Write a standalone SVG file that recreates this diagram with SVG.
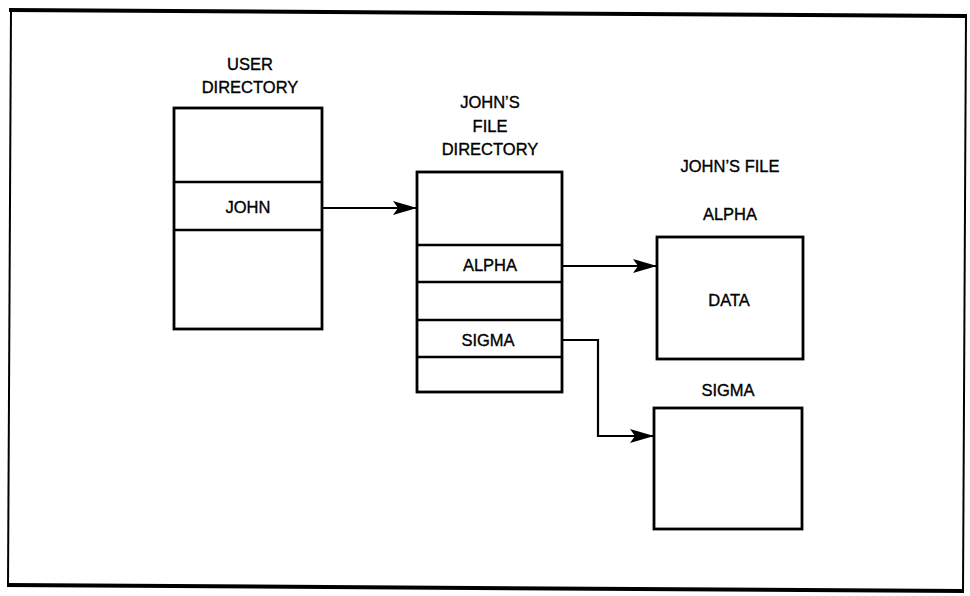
<svg xmlns="http://www.w3.org/2000/svg" width="970" height="596" viewBox="0 0 970 596">
<style>
.box{fill:none;stroke:#000;stroke-width:2.8}
.div{stroke:#000;stroke-width:2.5}
.t{font-family:"Liberation Sans",Arial,sans-serif;font-size:16.5px;fill:#000;stroke:#000;stroke-width:0.35;text-anchor:middle}
.c{fill:none;stroke:#000;stroke-width:2.2}
</style>
<defs>
<marker id="ah" markerWidth="24" markerHeight="14" refX="24" refY="7" orient="auto" markerUnits="userSpaceOnUse">
<path d="M0,0 L24,7 L0,14 L5,7 Z" fill="#000"/>
</marker>
</defs>
<rect width="970" height="596" fill="#fff"/>
<g id="frame">
<line x1="9" y1="10" x2="967" y2="16" stroke="#000" stroke-width="4"/>
<line x1="11" y1="9" x2="8" y2="587" stroke="#000" stroke-width="2"/>
<line x1="966" y1="15" x2="963" y2="592" stroke="#000" stroke-width="2"/>
<line x1="7" y1="585" x2="964" y2="591" stroke="#000" stroke-width="4"/>
</g>
<g id="user-directory">
<text class="t" x="250" y="70">USER</text>
<text class="t" x="250" y="93">DIRECTORY</text>
<rect class="box" x="174" y="108" width="148" height="221"/>
<line class="div" x1="174" y1="182" x2="322" y2="182"/>
<line class="div" x1="174" y1="230" x2="322" y2="230"/>
<text class="t" x="248" y="213">JOHN</text>
</g>
<g id="johns-file-directory">
<text class="t" x="490" y="108">JOHN’S</text>
<text class="t" x="490" y="132">FILE</text>
<text class="t" x="490" y="155">DIRECTORY</text>
<rect class="box" x="417" y="172" width="145" height="220"/>
<line class="div" x1="417" y1="245" x2="562" y2="245"/>
<line class="div" x1="417" y1="282" x2="562" y2="282"/>
<line class="div" x1="417" y1="320" x2="562" y2="320"/>
<line class="div" x1="417" y1="357" x2="562" y2="357"/>
<text class="t" x="490" y="271">ALPHA</text>
<text class="t" x="488" y="346">SIGMA</text>
</g>
<g id="johns-file-label">
<text class="t" x="730" y="172">JOHN’S FILE</text>
</g>
<g id="alpha-file">
<text class="t" x="730" y="220">ALPHA</text>
<rect class="box" x="657" y="237" width="146" height="122"/>
<text class="t" x="729" y="306">DATA</text>
</g>
<g id="sigma-file">
<text class="t" x="728" y="396">SIGMA</text>
<rect class="box" x="654" y="408" width="148" height="121"/>
</g>
<g id="connectors">
<line class="c" x1="323" y1="208" x2="417" y2="208" marker-end="url(#ah)"/>
<line class="c" x1="563" y1="266" x2="657" y2="266" marker-end="url(#ah)"/>
<polyline class="c" points="563,340 598,340 598,436 654,436" marker-end="url(#ah)"/>
</g>
</svg>
